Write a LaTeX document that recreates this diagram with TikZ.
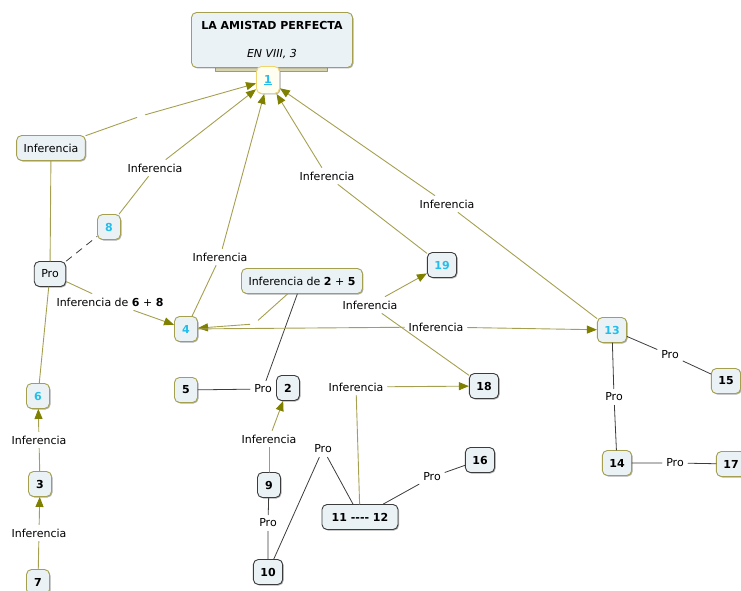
\documentclass[tikz,border=0pt]{standalone}
\usepackage{fontspec}
\setmainfont{DejaVu Sans}
\usetikzlibrary{arrows.meta,shadows}
\definecolor{olivo}{RGB}{165,160,80}
\definecolor{flecha}{RGB}{128,128,0}
\definecolor{fondo}{RGB}{234,242,245}
\definecolor{celeste}{RGB}{35,190,235}
\definecolor{borde}{RGB}{60,60,60}
\definecolor{oro}{RGB}{240,212,110}

\begin{document}
\begin{tikzpicture}[x=1pt,y=-1pt,line cap=round,line join=round,
  font=\fontsize{11}{13}\selectfont,
  caja/.style={draw=olivo,fill=fondo,rounded corners=5pt,line width=0.9pt,
    minimum height=25pt,minimum width=23pt,inner xsep=7pt,
    drop shadow={shadow xshift=1pt,shadow yshift=-1pt,opacity=0.45,fill=black!70}},
  cajaosc/.style={caja,draw=borde},
  num/.style={font=\fontsize{11}{13}\selectfont\bfseries},
  azul/.style={text=celeste},
  frase/.style={inner sep=4pt},
  hueco/.style={inner sep=4pt},
  rel/.style={draw=olivo,line width=0.9pt},
  inf/.style={rel,-{Triangle[length=10pt,width=8pt,color=flecha]}},
  pro/.style={draw=borde,line width=0.8pt}]
  \useasboundingbox (0,0) rectangle (741,591);

  \draw[olivo,fill=olivo!45,line width=0.8pt] (215,60) rectangle (327,71);
  \node[caja,num,align=center,minimum width=161pt,minimum height=55pt] (titulo) at (272,40)
    {LA AMISTAD PERFECTA\\[15pt]\normalfont\itshape EN VIII, 3};
  \node[caja,draw=oro,fill=yellow!6,num,azul,minimum height=27pt] (n1) at (268,80) {\underline{1}};

  \node[caja] (inf0) at (51,148) {Inferencia};
  \node[cajaosc] (pro0) at (50,274) {Pro};
  \node[caja,num,azul] (n8) at (109,227) {8};
  \node[caja,num,azul] (n6) at (38,396) {6};
  \node[caja,num] (n3) at (40,484) {3};
  \node[caja,num] (n7) at (38,582) {7};
  \node[caja,num,azul] (n4) at (186,329) {4};
  \node[caja] (caja25) at (302,281) {Inferencia de \textbf{2} + \textbf{5}};
  \node[cajaosc,num,azul] (n19) at (442,265) {19};
  \node[caja,num] (n5) at (186,390) {5};
  \node[cajaosc,num] (n2) at (288,388) {2};
  \node[cajaosc,num] (n18) at (484,386) {18};
  \node[cajaosc,num] (n9) at (269,485) {9};
  \node[cajaosc,num] (n10) at (268,572) {10};
  \node[cajaosc,num,minimum width=76pt] (n1112) at (360,517) {11 -{}-{}-{}- 12};
  \node[cajaosc,num] (n16) at (480,460) {16};
  \node[caja,num,azul] (n13) at (612,330) {13};
  \node[caja,num] (n15) at (726,381) {15};
  \node[caja,num] (n14) at (617,463) {14};
  \node[caja,num] (n17) at (731,464) {17};

  \node[hueco] (g0) at (141,116) {};
  \node[hueco] (g1) at (254,324) {};
  \node[frase] (l8) at (155,168) {Inferencia};
  \node[frase] (l4) at (220,257) {Inferencia};
  \node[frase] (l19) at (327,176) {Inferencia};
  \node[frase] (l13) at (447,204) {Inferencia};
  \node[frase] (l68) at (110,302) {Inferencia de \textbf{6} + \textbf{8}};
  \node[frase] (l413) at (436,327) {Inferencia};
  \node[frase] (l18) at (370,305) {Inferencia};
  \node[frase] (l1112) at (356,387) {Inferencia};
  \node[frase] (l9) at (269,439) {Inferencia};
  \node[frase] (l3) at (39,440) {Inferencia};
  \node[frase] (l7) at (39,533) {Inferencia};
  \node[frase] (p2) at (263,389) {Pro};
  \node[frase] (p9) at (268,523) {Pro};
  \node[frase] (p10) at (323,449) {Pro};
  \node[frase] (p11) at (432,477) {Pro};
  \node[frase] (p13a) at (670,355) {Pro};
  \node[frase] (p13b) at (614,397) {Pro};
  \node[frase] (p14) at (675,463) {Pro};

  \draw[rel] (inf0) -- (g0);
  \draw[inf] (g0) -- (n1);
  \draw[rel] (inf0) -- (pro0);
  \draw[rel] (pro0) -- (n6);
  \draw[pro,dash pattern=on 7pt off 6pt] (pro0) -- (n8);
  \draw[rel] (n8) -- (l8);
  \draw[inf] (l8) -- (n1);
  \draw[rel] (n4) -- (l4);
  \draw[inf] (l4) -- (n1);
  \draw[rel] (n19) -- (l19);
  \draw[inf] (l19) -- (n1);
  \draw[rel] (n13) -- (l13);
  \draw[inf] (l13) -- (n1);
  \draw[rel] (pro0) -- (l68);
  \draw[inf] (l68) -- (n4);
  \draw[rel] (caja25) -- (g1);
  \draw[inf] (g1) -- (n4);
  \draw[pro] (caja25) -- (p2);
  \draw[pro] (n5) -- (p2);
  \draw[rel] (n4) -- (l413);
  \draw[inf] (l413) -- (n13);
  \draw[rel] (n18) -- (l18);
  \draw[inf] (l18) -- (n19);
  \draw[rel] (n1112) -- (l1112);
  \draw[inf] (l1112) -- (n18);
  \draw[rel] (n9) -- (l9);
  \draw[inf] (l9) -- (n2);
  \draw[rel] (n3) -- (l3);
  \draw[inf] (l3) -- (n6);
  \draw[rel] (n7) -- (l7);
  \draw[inf] (l7) -- (n3);
  \draw[pro] (n9) -- (p9) -- (n10);
  \draw[pro] (n10) -- (p10) -- (n1112);
  \draw[pro] (n1112) -- (p11) -- (n16);
  \draw[pro] (n13) -- (p13a) -- (n15);
  \draw[pro] (n13) -- (p13b) -- (n14);
  \draw[pro] (n14) -- (p14) -- (n17);
\end{tikzpicture}
\end{document}
